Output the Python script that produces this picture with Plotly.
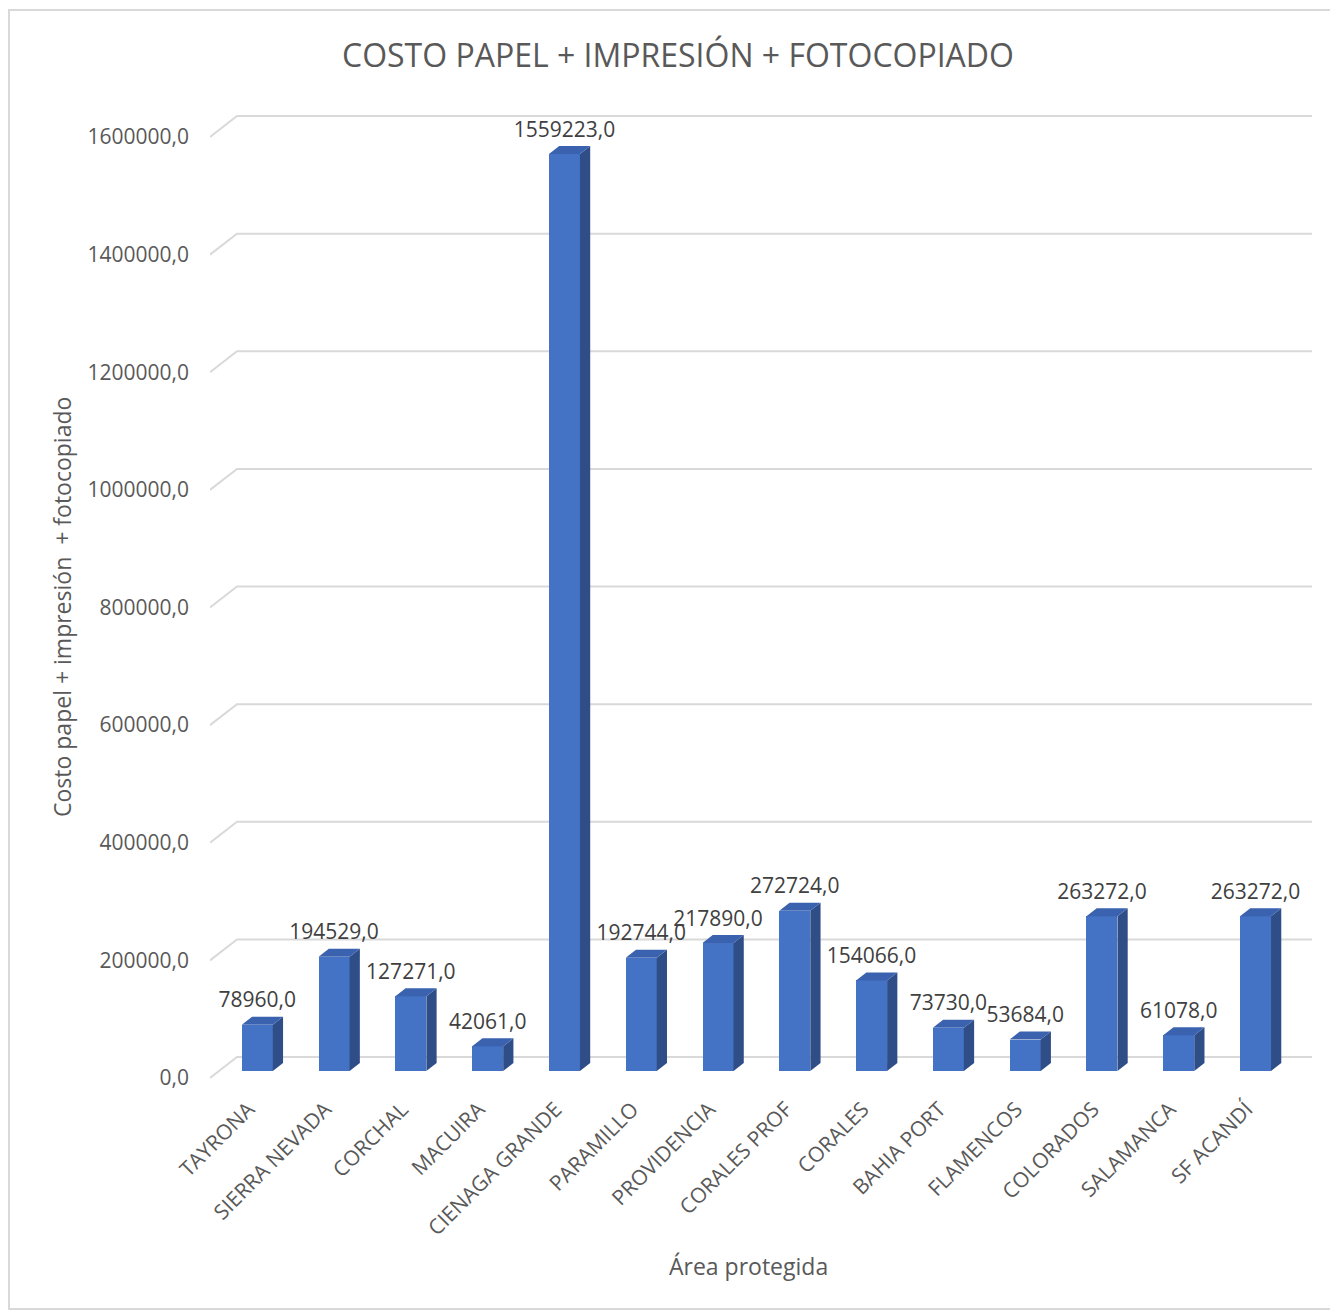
import plotly.graph_objects as go

# ---------------- data ----------------
categories = ["TAYRONA", "SIERRA NEVADA", "CORCHAL", "MACUIRA", "CIENAGA GRANDE",
              "PARAMILLO", "PROVIDENCIA", "CORALES PROF", "CORALES", "BAHIA PORT",
              "FLAMENCOS", "COLORADOS", "SALAMANCA", "SF ACANDÍ"]
values = [78960, 194529, 127271, 42061, 1559223, 192744, 217890, 272724,
          154066, 73730, 53684, 263272, 61078, 263272]
y_ticks = [0, 200000, 400000, 600000, 800000, 1000000, 1200000, 1400000, 1600000]
y_tick_labels = [f"{t},0" for t in y_ticks]
data_labels = [f"{v},0" for v in values]

title_text = "COSTO PAPEL + IMPRESIÓN + FOTOCOPIADO"
y_title = "Costo papel + impresión  + fotocopiado"
x_title = "Área protegida"

# ---------------- layout geometry (pixels, page coords) ----------------
OFF = 8                      # browser body margin
W, H = 1338 - OFF, 1313 - OFF
PL, PR, PT, PB = 210, 1312, 100, 1082          # plot area in page pixels
PX_PER_CAT = (1285 - 210) / 14.0
FRONT_Y0, FRONT_YTOP = 1078, 137               # page pixel of 0 and 1.6M on front plane
UNIT = 1600000 / (FRONT_Y0 - FRONT_YTOP)       # data units per pixel (y)

x_lo = -0.5
x_hi = -0.5 + (PR - PL) / PX_PER_CAT
y_lo = -(PB - FRONT_Y0) * UNIT
y_hi = (FRONT_Y0 - PT) * UNIT

# oblique depth: full depth offset (back wall)
DEPTH_DX = 27 / PX_PER_CAT
DEPTH_DY = 21 * UNIT
D0, D1 = 0.33, 0.71          # bar depth span
HALF_W = 15.5 / PX_PER_CAT   # bar half width

def proj(x, y, d):
    return x + d * DEPTH_DX, y + d * DEPTH_DY

def px_to_paper_x(px):
    return (px - PL) / (PR - PL)

def px_to_paper_y(py):
    return (PB - py) / (PB - PT)

FRONT = "#4472C4"
SIDE = "#2F4E87"
TOP = "#3A62AE"
GRID = "#D9D9D9"
TXT = "#595959"
FONT = "Open Sans"

fig = go.Figure()

# side and top faces
for i, v in enumerate(values):
    xs, ys = [], []
    for (d, yy) in [(D0, 0), (D1, 0), (D1, v), (D0, v), (D0, 0)]:
        px, py = proj(i + HALF_W, yy, d)
        xs.append(px); ys.append(py)
    fig.add_trace(go.Scatter(x=xs, y=ys, mode="lines", fill="toself",
                             fillcolor=SIDE, line=dict(width=0, color=SIDE),
                             hoverinfo="skip", showlegend=False))
    xs, ys = [], []
    for (xx, d) in [(i - HALF_W, D0), (i + HALF_W, D0), (i + HALF_W, D1), (i - HALF_W, D1), (i - HALF_W, D0)]:
        px, py = proj(xx, v, d)
        xs.append(px); ys.append(py)
    fig.add_trace(go.Scatter(x=xs, y=ys, mode="lines", fill="toself",
                             fillcolor=TOP, line=dict(width=0, color=TOP),
                             hoverinfo="skip", showlegend=False))

# data labels
lx = [proj(i, 0, D0)[0] for i in range(len(values))]
ly = [proj(i, v, D1)[1] + 4 * UNIT for i, v in enumerate(values)]
fig.add_trace(go.Scatter(x=lx, y=ly, mode="text", text=data_labels,
                         textposition="top center",
                         textfont=dict(family=FONT, size=21, color="#404040"),
                         hoverinfo="skip", showlegend=False, cliponaxis=False))

# front faces as bars
fx = [proj(i, 0, D0)[0] for i in range(len(values))]
fig.add_trace(go.Bar(x=fx, y=values, base=D0 * DEPTH_DY, width=2 * HALF_W,
                     marker=dict(color=FRONT, line=dict(width=0)),
                     hoverinfo="skip", showlegend=False))

# back-wall gridlines with diagonal on the side wall
shapes = []
for t in y_ticks:
    bx0, by0 = proj(x_lo, t, 1.0)
    bx1, _ = proj(13.5, t, 1.0)
    shapes.append(dict(type="path", xref="x", yref="y", layer="below",
                       path=f"M {x_lo},{t} L {bx0},{by0} L {bx1},{by0}",
                       line=dict(color=GRID, width=2)))
# outer border
shapes.append(dict(type="rect", xref="paper", yref="paper", layer="below",
                   x0=px_to_paper_x(9), x1=px_to_paper_x(1336),
                   y0=px_to_paper_y(1309), y1=px_to_paper_y(10),
                   line=dict(color=GRID, width=2)))

annotations = [
    dict(text=title_text, xref="paper", yref="paper", x=px_to_paper_x(678), y=px_to_paper_y(55),
         showarrow=False, xanchor="center", yanchor="middle",
         font=dict(family=FONT, size=32, color=TXT)),
    dict(text=y_title, xref="paper", yref="paper", x=px_to_paper_x(62), y=px_to_paper_y(607),
         showarrow=False, xanchor="center", yanchor="middle", textangle=-90,
         font=dict(family=FONT, size=23, color=TXT)),
    dict(text=x_title, xref="paper", yref="paper", x=px_to_paper_x(748), y=px_to_paper_y(1266),
         showarrow=False, xanchor="center", yanchor="middle",
         font=dict(family=FONT, size=23, color=TXT)),
]

fig.update_layout(
    width=W, height=H,
    margin=dict(l=PL - OFF, r=(1338 - OFF) - (PR - OFF), t=PT - OFF, b=(1313 - OFF) - (PB - OFF), pad=0),
    paper_bgcolor="white", plot_bgcolor="white",
    shapes=shapes, annotations=annotations,
    xaxis=dict(range=[x_lo, x_hi], tickvals=list(range(len(categories))), ticktext=categories,
               tickangle=-45, showgrid=False, zeroline=False, showline=False, ticks="",
               ticklabelstandoff=10,
               tickfont=dict(family=FONT, size=21, color=TXT), fixedrange=True),
    yaxis=dict(range=[y_lo, y_hi], tickvals=y_ticks, ticktext=y_tick_labels,
               showgrid=False, zeroline=False, showline=False, ticks="",
               ticklabelstandoff=20,
               tickfont=dict(family=FONT, size=21, color=TXT), fixedrange=True),
    bargap=0,
)

fig.write_html("out.html")
